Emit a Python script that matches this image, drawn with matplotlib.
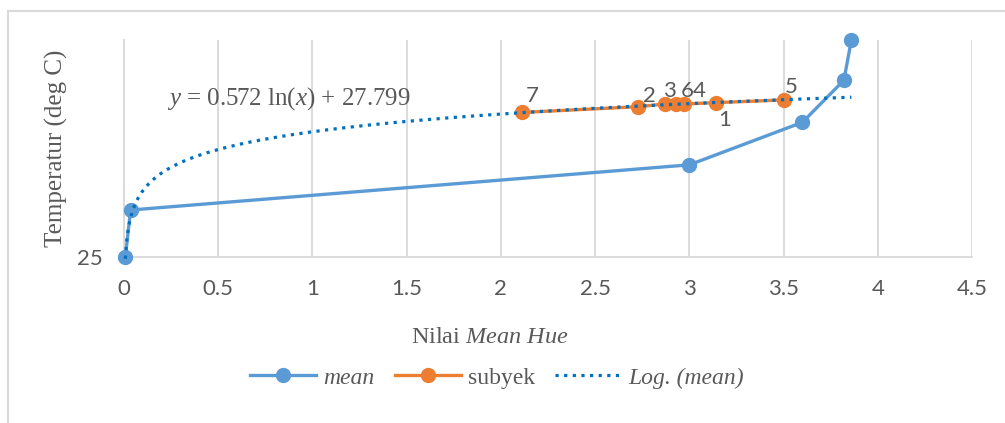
import numpy as np
import matplotlib
matplotlib.use('Agg')
import matplotlib.pyplot as plt
from matplotlib.lines import Line2D

plt.rcParams['mathtext.fontset'] = 'custom'
plt.rcParams['mathtext.rm'] = 'Liberation Serif'
plt.rcParams['mathtext.it'] = 'Liberation Serif:italic'

# mean series
mean_x = [0.007, 0.035, 3.0, 3.60, 3.82, 3.86]
mean_y = [25.0, 26.05, 27.06, 28.01, 28.95, 29.85]

# subyek series (sorted by hue) with point labels
subyek_x = [2.11, 2.73, 2.87, 2.93, 2.97, 3.14, 3.50]
subyek_y = [28.23, 28.36, 28.42, 28.42, 28.42, 28.45, 28.51]
subyek_lbl = ['7', '2', '3', '6', '4', '1', '5']

# log trendline coefficients
log_a = 0.572
log_b = 27.799

BLUE = '#5B9BD5'
ORANGE = '#ED7D31'
TREND = '#0070C0'
GRID = '#D9D9D9'
TXT = '#595959'

fig = plt.figure(figsize=(10.05, 4.23), dpi=100)
ax = fig.add_axes([124 / 1005, 1 - 257 / 423, (972 - 124) / 1005, (257 - 40) / 423])

tx = np.linspace(min(mean_x), max(mean_x), 400)
ty = log_a * np.log(tx) + log_b

ax.plot(mean_x, mean_y, '-o', color=BLUE, lw=2.4, ms=10, zorder=3, clip_on=False)
ax.plot(subyek_x, subyek_y, '-o', color=ORANGE, lw=2.4, ms=10, zorder=4, clip_on=False)
ax.plot(tx, ty, color=TREND, lw=2.3, linestyle=(0, (1, 1.7)), zorder=5, clip_on=False)

# data labels for each subject
offs = {'7': (11, 16), '2': (11, 11), '3': (5, 13), '6': (11, 13), '4': (16, 13),
        '1': (9, -17), '5': (8, 13)}
for x, y, s in zip(subyek_x, subyek_y, subyek_lbl):
    ax.annotate(s, (x, y), xytext=offs[s], textcoords='offset pixels',
                ha='center', va='center', fontsize=16, color=TXT,
                family='Lato', zorder=6)

ax.text(0.23, 28.55, r'$y$ = 0.572 ln($x$) + 27.799', fontsize=18,
        family='Liberation Serif', color=TXT, ha='left', va='center')

ax.set_xlim(0, 4.5)
ax.set_ylim(25, 29.85)
ax.set_xticks(np.arange(0, 4.51, 0.5))
ax.set_xticklabels(['0', '0.5', '1', '1.5', '2', '2.5', '3', '3.5', '4', '4.5'])
ax.set_yticks([25])
ax.tick_params(axis='x', length=0, labelsize=16, labelcolor=TXT, pad=16)
ax.tick_params(axis='y', length=0, labelsize=16, labelcolor=TXT, pad=15)
for lab in ax.get_xticklabels() + ax.get_yticklabels():
    lab.set_family('Lato')
ax.grid(axis='x', color=GRID, lw=1.3)
ax.set_axisbelow(True)
for side in ['top', 'right']:
    ax.spines[side].set_visible(False)
for side in ['left', 'bottom']:
    ax.spines[side].set_color(GRID)
    ax.spines[side].set_linewidth(1.3)

ax.set_ylabel('Temperatur (deg C)', fontsize=18, family='Liberation Serif',
              color=TXT, labelpad=7)
fig.text(490 / 1005, 1 - 337 / 423, r'Nilai $\it{Mean\ Hue}$', fontsize=17.5,
         family='Liberation Serif', color=TXT, ha='center', va='center')

handles = [
    Line2D([], [], color=BLUE, lw=2.4, marker='o', ms=10),
    Line2D([], [], color=ORANGE, lw=2.4, marker='o', ms=10),
    Line2D([], [], color=TREND, lw=2.3, linestyle=(0, (1, 1.7))),
]
leg = fig.legend(handles, ['mean', 'subyek', 'Log. (mean)'], loc='center',
                 bbox_to_anchor=(497 / 1005, 1 - 378 / 423), ncol=3, frameon=False,
                 prop={'family': 'Liberation Serif', 'size': 17},
                 handlelength=2.8, columnspacing=0.85, handletextpad=0.3)
for t, style in zip(leg.get_texts(), ['italic', 'normal', 'italic']):
    t.set_color(TXT)
    t.set_fontstyle(style)

# chart area border (top and left edges)
fig.add_artist(Line2D([8 / 1005, 8 / 1005], [0, 1 - 11 / 423], color=GRID, lw=1.5,
                      transform=fig.transFigure))
fig.add_artist(Line2D([8 / 1005, 1], [1 - 11 / 423, 1 - 11 / 423], color=GRID, lw=1.5,
                      transform=fig.transFigure))

fig.savefig('out.png', dpi=100, facecolor='white')
